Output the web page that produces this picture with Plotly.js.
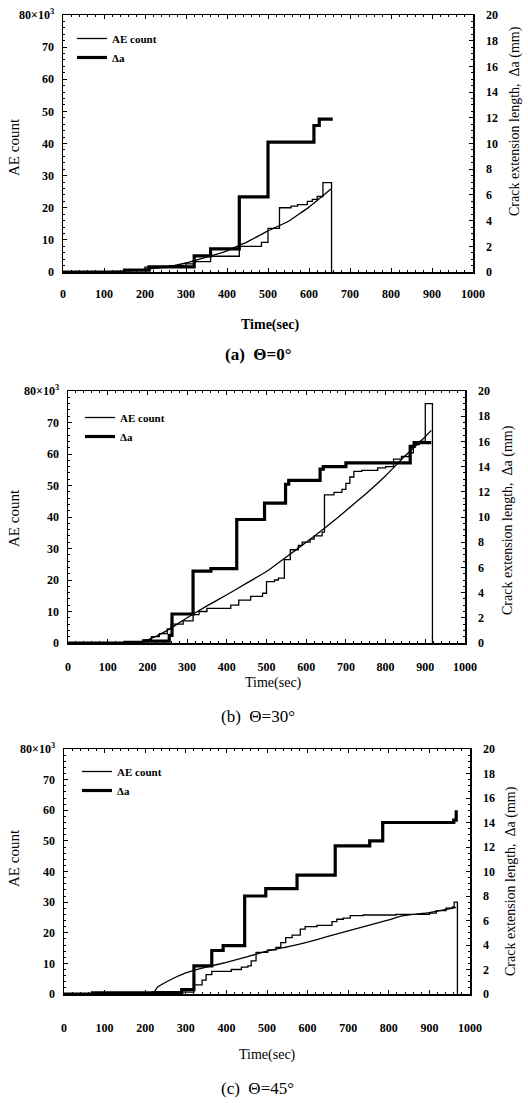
<!DOCTYPE html>
<html>
<head>
<meta charset="utf-8">
<script src="https://cdn.plot.ly/plotly-3.0.1.min.js"></script>
<style>html,body{margin:0;padding:0;background:#fff;}#chart{width:528px;height:1103px;}</style>
</head>
<body>
<div id="chart"></div>
<script>
// ---------- DATA (AE count in x10^3, crack extension in mm, time in s) ----------
// Panel (a) theta = 0 deg
const aTimeSmooth = [90,150,200,250,300,350,400,430,450,500,550,600,655];
const aAESmooth   = [0,0.3,0.8,1.5,2.8,4.6,6.6,8.3,9.4,12.8,15.8,20.2,26];
const aTimeStep   = [0,150,200,260,300,320,360,430,484,500,528,556,572,596,608,620,634,655];
const aAEStep     = [0,0.5,1.5,2.0,2.5,3.2,4.9,8.0,9.2,13.6,20.0,20.5,21.0,22.0,22.6,23.5,27.8,0];
const aTimeDa     = [0,150,210,320,360,430,500,612,625,658];
const aDa         = [0,0.15,0.4,1.25,1.8,5.85,10.1,11.4,11.9,11.9];

// Panel (b) theta = 30 deg
const bTimeSmooth = [140,190,220,250,300,350,400,450,500,550,600,650,700,750,800,850,900,915];
const bAESmooth   = [0,0.5,2.0,4.0,8.0,11.8,15.3,19.0,22.7,27.3,32.0,36.8,42.0,47.3,53.1,59.5,65.5,67.5];
const bTimeStep   = [0,150,190,210,230,250,260,290,315,330,350,410,430,460,490,500,520,530,545,560,580,590,610,620,640,646,670,690,700,710,720,740,780,800,820,840,860,870,885,900,918];
const bAEStep     = [0,0.3,1.0,2.0,3.0,4.5,6.0,7.0,9.0,10.0,11.0,12.0,13.6,14.8,15.8,19.5,20.0,20.6,26.5,29.6,31.0,32.0,33.0,34.0,35.2,47.0,47.8,48.8,50.7,52.7,54.5,54.8,55.6,56.0,58.4,59.2,60.4,63.0,64.0,76.0,0];
const bTimeDa     = [0,145,190,255,262,315,360,425,495,548,556,635,643,700,862,872,915];
const bDa         = [0,0.05,0.15,0.6,2.3,5.7,5.9,9.8,11.1,12.6,12.9,13.8,14.0,14.3,15.6,15.9,15.9];

// Panel (c) theta = 45 deg
const cTimeSmooth = [220,230,260,300,350,400,450,500,550,600,650,700,750,800,830,900,966];
const cAESmooth   = [0,2.2,4.5,6.9,8.8,10.3,12.1,14.0,15.4,16.9,18.8,20.6,22.4,24.2,25.4,26.6,28.3];
const cTimeStep   = [0,280,320,340,350,364,412,437,453,461,473,502,522,534,546,562,582,594,623,660,672,688,705,737,818,900,917,941,957,961,969];
const cAEStep     = [0,0.6,3.0,4.5,6.3,7.4,8.0,8.8,9.2,10.8,13.6,14.4,15.2,16.8,18.4,19.2,21.2,22.0,22.4,23.6,24.4,24.8,25.6,25.8,26.0,26.4,27.2,28.0,28.4,30.0,0];
const cTimeDa     = [0,70,220,290,320,364,392,445,497,574,668,753,785,960,966];
const cDa         = [0,0.1,0.12,0.35,2.3,3.55,3.95,8.0,8.6,9.7,12.1,12.5,14.0,14.2,15.0];

// ---------- GEOMETRY ----------
const W = 528, H = 1103;
const px = v => v / W;
const py = v => 1 - v / H;

const serif = 'Liberation Serif, Times New Roman, serif';
const thin = {color:'#000', width:1.3};
const thick = {color:'#000', width:3.2};

function panelTraces(xa, yl, yr, lg, ts, as, tst, ast, td, d) {
  return [
    {x:ts, y:as, xaxis:xa, yaxis:yl, type:'scatter', mode:'lines', name:'AE count', legend:lg,
     line:Object.assign({shape:'spline', smoothing:0.3}, thin)},
    {x:tst, y:ast, xaxis:xa, yaxis:yl, type:'scatter', mode:'lines', showlegend:false, legend:lg,
     line:Object.assign({shape:'hv'}, thin)},
    {x:td, y:d, xaxis:xa, yaxis:yr, type:'scatter', mode:'lines', name:'Δa', legend:lg,
     line:Object.assign({shape:'hv'}, thick)}
  ];
}

const data = [
  ...panelTraces('x','y','y2','legend', aTimeSmooth,aAESmooth,aTimeStep,aAEStep,aTimeDa,aDa),
  ...panelTraces('x2','y3','y4','legend2', bTimeSmooth,bAESmooth,bTimeStep,bAEStep,bTimeDa,bDa),
  ...panelTraces('x3','y5','y6','legend3', cTimeSmooth,cAESmooth,cTimeStep,cAEStep,cTimeDa,cDa)
];

const leftVals = [0,10,20,30,40,50,60,70,80];
const leftText = ['0','10','20','30','40','50','60','70','80×10<sup>3</sup>'];
const tickFont = {family:serif, size:12, color:'#000', weight:'bold'};

function xAxis(dom, anchor, standoff) {
  return {domain:dom, anchor:anchor, range:[0,1000], dtick:100, tick0:0,
    showline:true, linecolor:'#000', linewidth:1.5, mirror:'ticks',
    ticks:'inside', ticklen:4, tickcolor:'#000', showgrid:false, zeroline:false,
    tickfont:tickFont, ticklabelstandoff:standoff,
    minor:{ticks:'inside', ticklen:2, dtick:20, tickcolor:'#000', showgrid:false}};
}
function yLeft(dom, anchor) {
  return {domain:dom, anchor:anchor, range:[0,80], tickvals:leftVals, ticktext:leftText,
    showline:true, linecolor:'#000', linewidth:1.5, ticks:'inside', ticklen:4, tickcolor:'#000',
    showgrid:false, zeroline:false, tickfont:tickFont, ticklabelstandoff:5,
    minor:{ticks:'inside', ticklen:2, dtick:2, tickcolor:'#000', showgrid:false}};
}
function yRight(over, anchor) {
  return {overlaying:over, anchor:anchor, side:'right', range:[0,20], dtick:2, tick0:0,
    showline:true, linecolor:'#000', linewidth:1.5, ticks:'inside', ticklen:4, tickcolor:'#000',
    showgrid:false, zeroline:false, tickfont:tickFont, ticklabelstandoff:9,
    minor:{ticks:'inside', ticklen:2, dtick:0.5, tickcolor:'#000', showgrid:false}};
}

const legendFont = {family:serif, size:11, color:'#000', weight:'bold'};
function legendAt(x, y) {
  return {x:px(x), y:py(y), xanchor:'left', yanchor:'top', bgcolor:'rgba(0,0,0,0)',
          borderwidth:0, font:legendFont, tracegroupgap:0, itemwidth:30};
}

function ann(text, x, y, size, angle, weight) {
  return {text:text, x:px(x), y:py(y), xref:'paper', yref:'paper', showarrow:false,
          xanchor:'center', yanchor:'middle', textangle:angle||0,
          font:{family:serif, size:size, color:'#000', weight:weight||'normal'}};
}

const layout = {
  width:W, height:H, margin:{l:0,r:0,t:0,b:0}, paper_bgcolor:'#fff', plot_bgcolor:'#fff',
  showlegend:true,
  xaxis: xAxis([px(63),px(473)],'y', 10),
  yaxis: yLeft([py(272),py(15)],'x'),
  yaxis2: yRight('y','x'),
  xaxis2: xAxis([px(68),px(465)],'y3', 12),
  yaxis3: yLeft([py(643),py(391)],'x2'),
  yaxis4: yRight('y3','x2'),
  xaxis3: xAxis([px(64),px(470)],'y5', 22),
  yaxis5: yLeft([py(994),py(749)],'x3'),
  yaxis6: yRight('y5','x3'),
  legend: legendAt(72, 24),
  legend2: legendAt(80, 403),
  legend3: legendAt(77, 757),
  annotations: [
    ann('AE count', 14, 147, 15, -90),
    ann('Crack extension length,  Δa (mm)', 515, 121, 14, -90),
    ann('Time(sec)', 270, 325, 14, 0, 'bold'),
    ann('(a)  Θ=0°', 258, 354, 17, 0, 'bold'),
    ann('AE count', 14, 518, 15, -90),
    ann('Crack extension length,  Δa (mm)', 508, 520, 14, -90),
    ann('Time(sec)', 273, 683, 14, 0),
    ann('(b)  Θ=30°', 258, 716, 17, 0),
    ann('AE count', 14, 858, 15, -90),
    ann('Crack extension length,  Δa (mm)', 511, 881, 14, -90),
    ann('Time(sec)', 267, 1055, 14, 0),
    ann('(c)  Θ=45°', 257, 1088, 17, 0)
  ]
};

Plotly.newPlot('chart', data, layout, {staticPlot:true, displayModeBar:false});
</script>
</body>
</html>
